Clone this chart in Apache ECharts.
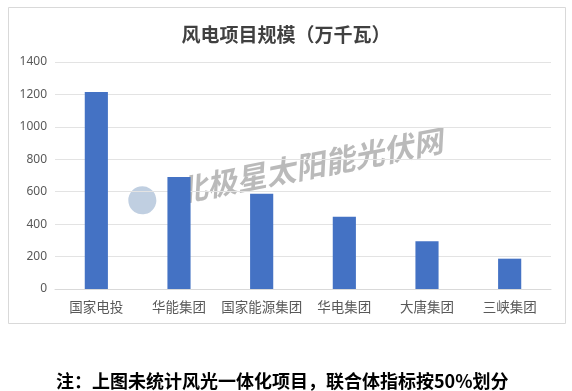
<!DOCTYPE html>
<html><head><meta charset="utf-8">
<script src="https://cdn.jsdelivr.net/npm/echarts@6/dist/echarts.min.js"></script>
<style>html,body{margin:0;padding:0;background:#fff;}#c{width:572px;height:391px;}</style>
</head><body><div id="c"></div>
<script>
const titleText = '风电项目规模（万千瓦）';
const categories = ['国家电投', '华能集团', '国家能源集团', '华电集团', '大唐集团', '三峡集团'];
const values = [1215, 690, 587, 445, 295, 187];
const yTicks = [0, 200, 400, 600, 800, 1000, 1200, 1400];
const noteText = '注：上图未统计风光一体化项目，联合体指标按50%划分';
const watermarkText = '北极星太阳能光伏网';

const chart = echarts.init(document.getElementById('c'));
chart.setOption({
  animation: false,
  backgroundColor: '#fff',
  title: {
    text: titleText, left: 'center', top: 20,
    textStyle: {fontFamily: '"Noto Sans CJK SC"', fontWeight: 'bold', fontSize: 19, color: '#404040'}
  },
  grid: {left: 55, right: 21, top: 62, bottom: 102},
  xAxis: {
    type: 'category', data: categories,
    axisLine: {lineStyle: {color: '#d9d9d9'}},
    axisTick: {show: false},
    axisLabel: {color: '#595959', fontSize: 13.5, margin: 11, interval: 0, fontFamily: '"Noto Sans CJK SC"'}
  },
  yAxis: {
    type: 'value', min: yTicks[0], max: yTicks[yTicks.length - 1], interval: 200,
    axisLine: {show: false}, axisTick: {show: false},
    axisLabel: {color: '#595959', fontSize: 12, margin: 8, fontFamily: '"Noto Sans"',
                formatter: v => String(v)},
    splitLine: {lineStyle: {color: '#e3e3e3'}}
  },
  series: [{
    type: 'bar', data: values, barWidth: '28%',
    itemStyle: {color: '#4472C4'}
  }],
  graphic: [
    {type: 'rect', shape: {x: 8.5, y: 7.5, width: 557, height: 316},
     style: {fill: 'none', stroke: '#d9d9d9', lineWidth: 1}, z: 0, silent: true},
    {type: 'group', x: 298, y: 168, rotation: 11 * Math.PI / 180, z: 100, silent: true,
     children: [
       {type: 'rect', shape: {x: -176, y: -22, width: 334, height: 44},
        style: {fill: 'rgba(255,255,255,0.35)'}},
       {type: 'circle', shape: {cx: -159, cy: 2, r: 14},
        style: {fill: 'rgba(150,175,205,0.6)'}},
       {type: 'text', x: 12, y: 0,
        style: {text: watermarkText, fontSize: 30, fontWeight: 'bold', fontStyle: 'italic',
                fontFamily: '"Noto Sans CJK SC"', fill: 'rgba(130,130,130,0.55)',
                align: 'center', verticalAlign: 'middle'}}
     ]},
    {type: 'text', left: 56, top: 372, z: 100,
     style: {text: noteText, fontSize: 18, fontWeight: 'bold', fontFamily: '"Noto Sans CJK SC"', fill: '#000'}}
  ]
});
</script></body></html>
